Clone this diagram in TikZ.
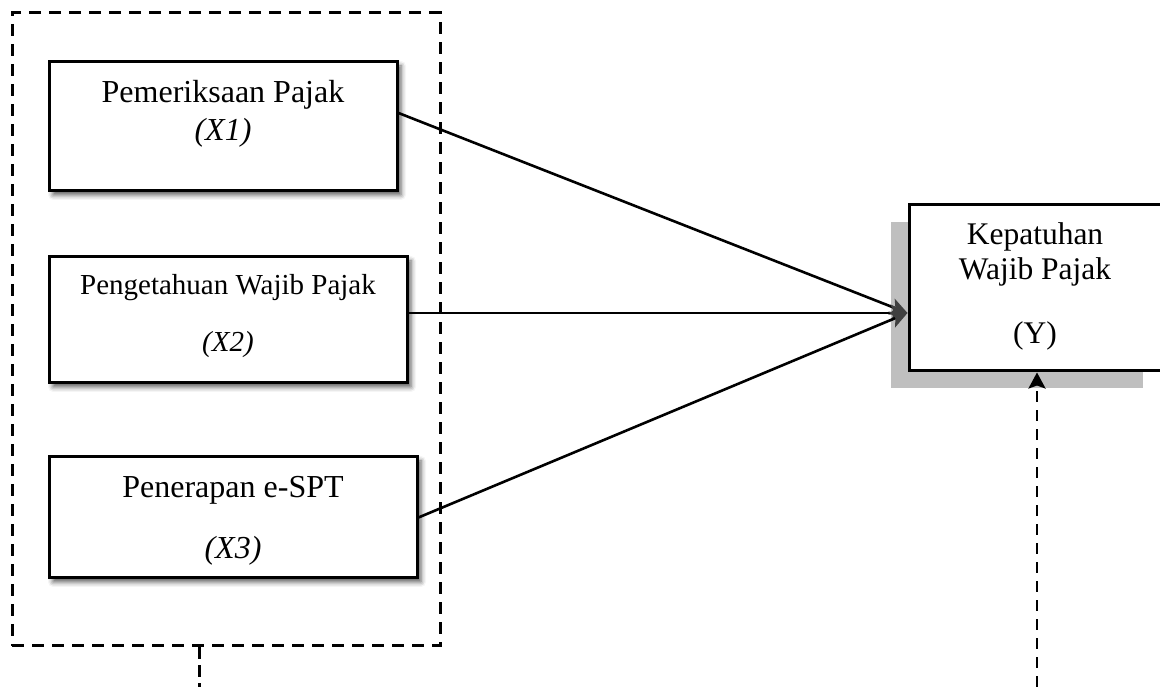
\documentclass[tikz,border=0pt]{standalone}
\usepackage{fontspec}
\setmainfont{Liberation Serif}
\usetikzlibrary{arrows.meta,positioning,calc,shadows,shadows.blur}

\tikzset{
  varbox/.style={draw=black, line width=3pt, fill=white, inner sep=0pt,
                 blur shadow={shadow xshift=4pt, shadow yshift=-4pt,
                              shadow blur radius=5pt, shadow opacity=65}},
  ybox/.style={draw=black, line width=3pt, fill=white, inner sep=0pt,
               drop shadow={shadow xshift=-18pt, shadow yshift=-17pt,
                            fill=black!25, opacity=1}},
  group/.style={draw=black, line width=3pt, dash pattern=on 12pt off 8pt,
                inner sep=0pt},
  lbl/.style={inner sep=0pt, anchor=base, font=\fontsize{32}{38}\selectfont},
  effect/.style={line width=2.6pt,
                 -{Stealth[length=17pt, width=17pt, inset=4pt, color=black!75]}},
  feedback/.style={line width=2.8pt, dash pattern=on 11pt off 8pt,
                   -{Stealth[length=16pt, width=17pt, inset=3pt]}},
}

\begin{document}
\begin{tikzpicture}[x=1pt, y=1pt]
\useasboundingbox (0,0) rectangle (1160,687);

% independent variables, grouped
\node[group, minimum width=428pt, minimum height=633pt] (grp) at (226,357.5) {};
\node[varbox, minimum width=348pt, minimum height=129pt] (x1) at (223,560.5) {};
\node[varbox, minimum width=358pt, minimum height=126pt] (x2) at (228,367) {};
\node[varbox, minimum width=368pt, minimum height=121pt] (x3) at (233,169.5) {};

\node[lbl] (x1a) at (223,584) {Pemeriksaan Pajak};
\node[lbl] (x1b) at (223,546) {\textit{(X1)}};
\node[lbl, font=\fontsize{29}{35}\selectfont] (x2a) at (228,392) {Pengetahuan Wajib Pajak};
\node[lbl, font=\fontsize{29}{35}\selectfont] (x2b) at (228,335) {\textit{(X2)}};
\node[lbl] (x3a) at (233,189) {Penerapan e-SPT};
\node[lbl] (x3b) at (233,128) {\textit{(X3)}};

% dependent variable
\node[ybox, minimum width=252pt, minimum height=166pt] (yv) at (1035,399) {};
\node[lbl, font=\fontsize{31.5}{37}\selectfont] (ya) at (1035,442) {Kepatuhan};
\node[lbl, font=\fontsize{31.5}{37}\selectfont] (yb) at (1035,407) {Wajib Pajak};
\node[lbl, font=\fontsize{31.5}{37}\selectfont] (yc) at (1035,343) {(Y)};

% partial effects
\draw[effect] ([yshift=13.5pt]x1.east) -- ([yshift=-25pt]yv.west);
\draw[effect] ([yshift=7pt]x2.east) -- ([yshift=-25pt]yv.west);
\draw[effect] (x3.east) -- ([yshift=-25pt]yv.west);

% simultaneous effect
\coordinate (grpout) at (199,0);
\coordinate (yfeed) at (1037,0);
\draw[group, dash pattern=on 12pt off 6pt] (grp.south -| grpout) -- (grpout);
\draw[feedback] (yfeed) -- (yfeed |- yv.south);
\end{tikzpicture}
\end{document}
